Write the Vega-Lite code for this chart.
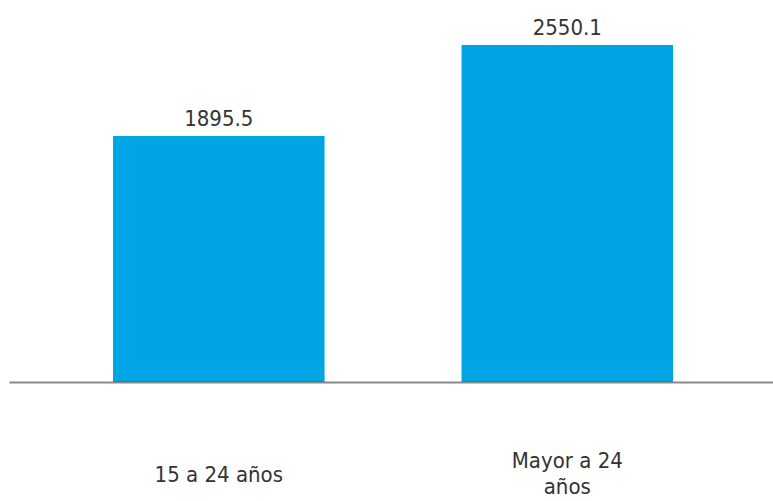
{
  "$schema": "https://vega.github.io/schema/vega-lite/v6.json",
  "autosize": "none",
  "width": 764,
  "height": 382,
  "padding": {"left": 9, "top": 0, "right": 0, "bottom": 119},
  "background": "white",
  "config": {"view": {"stroke": null}, "font": "DejaVu Sans Condensed"},
  "data": {"values": [
    {"grupo": "15 a 24 años", "valor": 1895.5},
    {"grupo": "Mayor a 24|años", "valor": 2550.1}
  ]},
  "encoding": {
    "x": {"field": "grupo", "type": "nominal", "sort": null,
      "scale": {"paddingInner": 0.393, "paddingOuter": 0.2926, "align": 0.51},
      "axis": {"title": null, "ticks": false, "labelAngle": 0,
        "labelExpr": "split(datum.label, '|')",
        "labelFont": "DejaVu Sans Condensed", "labelFontSize": 22, "labelColor": "#333333",
        "labelBaseline": "middle",
        "labelPadding": {"condition": {"test": "indexof(datum.value, '|') >= 0", "value": 78}, "value": 92},
        "labelLineHeight": 26,
        "domainColor": "#555555", "domainOpacity": 0.7, "domainWidth": 2, "zindex": 1}},
    "y": {"field": "valor", "type": "quantitative",
      "scale": {"domain": [125, 2873], "zero": false, "nice": false},
      "axis": null}
  },
  "layer": [
    {"mark": {"type": "bar", "color": "#00A6E3", "clip": true}},
    {"mark": {"type": "text", "baseline": "alphabetic", "dy": -10, "fontSize": 22, "color": "#333333", "font": "DejaVu Sans Condensed"},
     "encoding": {"text": {"field": "valor", "type": "quantitative", "format": ".1f"}}}
  ]
}
